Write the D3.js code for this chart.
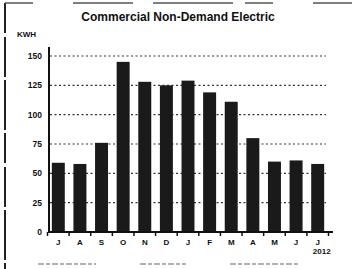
<!DOCTYPE html>
<html>
<head>
<meta charset="utf-8">
<script src="https://cdn.jsdelivr.net/npm/d3@7"></script>
<style>
  body { margin: 0; background: #fff; }
  svg { display: block; font-family: "Liberation Sans", Arial, sans-serif; }
</style>
</head>
<body>
<svg width="352" height="269"></svg>
<script>
// data
var months = ["J", "A", "S", "O", "N", "D", "J", "F", "M", "A", "M", "J", "J"];
var kwh = [59, 58, 76, 145, 128, 125, 129, 119, 111, 80, 60, 61, 58];
var yTicks = [0, 25, 50, 75, 100, 125, 150];

var svg = d3.select("svg");

var x = d3.scaleBand()
  .domain(d3.range(months.length))
  .range([47.5, 328.5])
  .paddingInner(0.4)
  .paddingOuter(0.2);

var y = d3.scaleLinear()
  .domain([0, 150])
  .range([232, 56]);

// scan frame
svg.append("line")
  .attr("x1", 5).attr("x2", 5).attr("y1", 3).attr("y2", 269)
  .attr("stroke", "#222").attr("stroke-width", 2)
  .attr("stroke-dasharray", "30,4,40,3,50,3");
svg.append("line")
  .attr("x1", 5).attr("x2", 352).attr("y1", 3).attr("y2", 3)
  .attr("stroke", "#555").attr("stroke-width", 1.5)
  .attr("stroke-dasharray", "28,40,60,20,80,12");

// title
svg.append("text")
  .attr("x", 178).attr("y", 21)
  .attr("text-anchor", "middle")
  .style("font-size", "12px").style("font-weight", "bold")
  .attr("fill", "#111")
  .text("Commercial Non-Demand Electric");

svg.append("text")
  .attr("x", 17).attr("y", 37)
  .style("font-size", "8px").style("font-weight", "bold")
  .attr("fill", "#111")
  .text("KWH");

// dotted grid
svg.append("g")
  .selectAll("line")
  .data(yTicks.filter(function(d) { return d > 0; }))
  .enter().append("line")
  .attr("x1", 50).attr("x2", 326)
  .attr("y1", function(d) { return y(d); })
  .attr("y2", function(d) { return y(d); })
  .attr("stroke", "#333").attr("stroke-width", 1.2)
  .attr("stroke-dasharray", "2,2.5");

// y tick labels
svg.append("g")
  .selectAll("text")
  .data(yTicks)
  .enter().append("text")
  .attr("x", 42)
  .attr("y", function(d) { return y(d) + 3; })
  .attr("text-anchor", "end")
  .style("font-size", "8.5px").style("font-weight", "bold")
  .attr("fill", "#111")
  .text(function(d) { return d; });

// bars
svg.append("g")
  .selectAll("rect")
  .data(kwh)
  .enter().append("rect")
  .attr("x", function(d, i) { return x(i); })
  .attr("y", function(d) { return y(d); })
  .attr("width", x.bandwidth())
  .attr("height", function(d) { return y(0) - y(d); })
  .attr("fill", "#1a1a1a");

// axes lines
svg.append("line")
  .attr("x1", 49).attr("x2", 49).attr("y1", 47).attr("y2", 233)
  .attr("stroke", "#111").attr("stroke-width", 2);
svg.append("line")
  .attr("x1", 48).attr("x2", 333).attr("y1", 232).attr("y2", 232)
  .attr("stroke", "#111").attr("stroke-width", 2);

// ticks between bars
var step = x.step();
svg.append("g")
  .selectAll("line")
  .data(d3.range(months.length + 1))
  .enter().append("line")
  .attr("x1", function(i) { return 47.5 + i * step; })
  .attr("x2", function(i) { return 47.5 + i * step; })
  .attr("y1", 232).attr("y2", 236)
  .attr("stroke", "#111").attr("stroke-width", 1.5);

// month labels
svg.append("g")
  .selectAll("text")
  .data(months)
  .enter().append("text")
  .attr("x", function(d, i) { return x(i) + x.bandwidth() / 2; })
  .attr("y", 245)
  .attr("text-anchor", "middle")
  .style("font-size", "8px").style("font-weight", "bold")
  .attr("fill", "#111")
  .text(function(d) { return d; });

svg.append("text")
  .attr("x", x(12) + x.bandwidth() / 2 + 4).attr("y", 254)
  .attr("text-anchor", "middle")
  .style("font-size", "8px").style("font-weight", "bold")
  .attr("fill", "#111")
  .text("2012");

// faint remains of the legend row, cut off by the scan's bottom edge
svg.append("g")
  .selectAll("line")
  .data([[38, 96], [140, 186], [230, 300]])
  .enter().append("line")
  .attr("x1", function(d) { return d[0]; })
  .attr("x2", function(d) { return d[1]; })
  .attr("y1", 264).attr("y2", 264)
  .attr("stroke", "#999").attr("stroke-width", 1.5)
  .attr("stroke-dasharray", "6,2,4,2");
</script>
</body>
</html>
